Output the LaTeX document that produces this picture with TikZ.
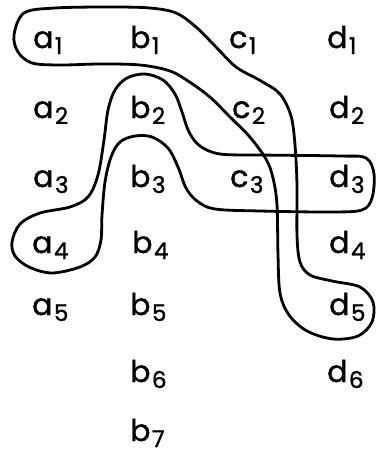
\documentclass[tikz,border=0pt]{standalone}
\usepackage{fontspec}
\setmainfont{Poppins}
\newfontfamily\labfont{Poppins}[FakeBold=1.3]
\newcommand\lab[2]{#1\kern1.5pt\raisebox{-6pt}{\fontsize{23}{23}\selectfont #2}}
\tikzset{
  x=1pt, y=-1pt,
  lbl/.style={anchor=base west, inner sep=0pt, font=\labfont\fontsize{30}{30}\selectfont},
  loop/.style={line width=2.8pt, line join=round}
}
\begin{document}
\begin{tikzpicture}
\useasboundingbox (0,0) rectangle (375,455);
% labels
\foreach \c/\x in {a/33,b/130,c/229,d/327}{
  \node[lbl] (\c1) at (\x,48) {\lab{\c}{1}};
}
\foreach \c/\x in {a/33,b/130,c/232,d/329}{
  \node[lbl] (\c2) at (\x,118) {\lab{\c}{2}};
}
\foreach \c/\x in {a/33,b/130,c/230,d/329}{
  \node[lbl] (\c3) at (\x,187) {\lab{\c}{3}};
}
\foreach \c/\x in {a/32,b/132,d/329}{
  \node[lbl] (\c4) at (\x,253) {\lab{\c}{4}};
}
\foreach \c/\x in {a/32,b/130,d/329}{
  \node[lbl] (\c5) at (\x,315) {\lab{\c}{5}};
}
\node[lbl] (b6) at (130,382) {\lab{b}{6}};
\node[lbl] (d6) at (327,382) {\lab{d}{6}};
\node[lbl] (b7) at (130,441) {\lab{b}{7}};
% curve 1: a1, b1, d5
\draw[loop] plot[smooth cycle, tension=0.55] coordinates {
  (14,35) (24,13) (55,8) (110,7) (150,8) (176,13) (196,27) (216,47)
  (236,67) (261,81) (280,94) (291,116) (295,145) (297,185) (297,235)
  (300,262) (310,275) (332,281) (360,287) (373,302) (372,322) (358,336)
  (333,339) (307,331) (289,315) (280,293) (278,255) (277,205) (273,178)
  (266,159) (249,136) (230,117) (211,98) (191,83) (170,71) (140,65)
  (100,64) (60,65) (32,63) (18,52)};
% curve 2: a4, b2, c3, d3
\draw[loop] plot[smooth cycle, tension=0.55] coordinates {
  (12,242) (20,224) (40,213) (70,207) (88,197) (98,175) (104,140)
  (108,110) (115,90) (127,78) (145,74) (163,80) (175,94) (182,112)
  (189,132) (200,146) (220,154) (260,155) (340,156) (366,158) (374,174)
  (372,198) (362,210) (330,212) (260,211) (215,209) (197,201) (186,188)
  (178,167) (168,148) (152,137) (135,136) (120,142) (111,157) (105,182)
  (102,215) (101,240) (95,257) (80,267) (52,273) (29,267) (15,256)};
\end{tikzpicture}
\end{document}
